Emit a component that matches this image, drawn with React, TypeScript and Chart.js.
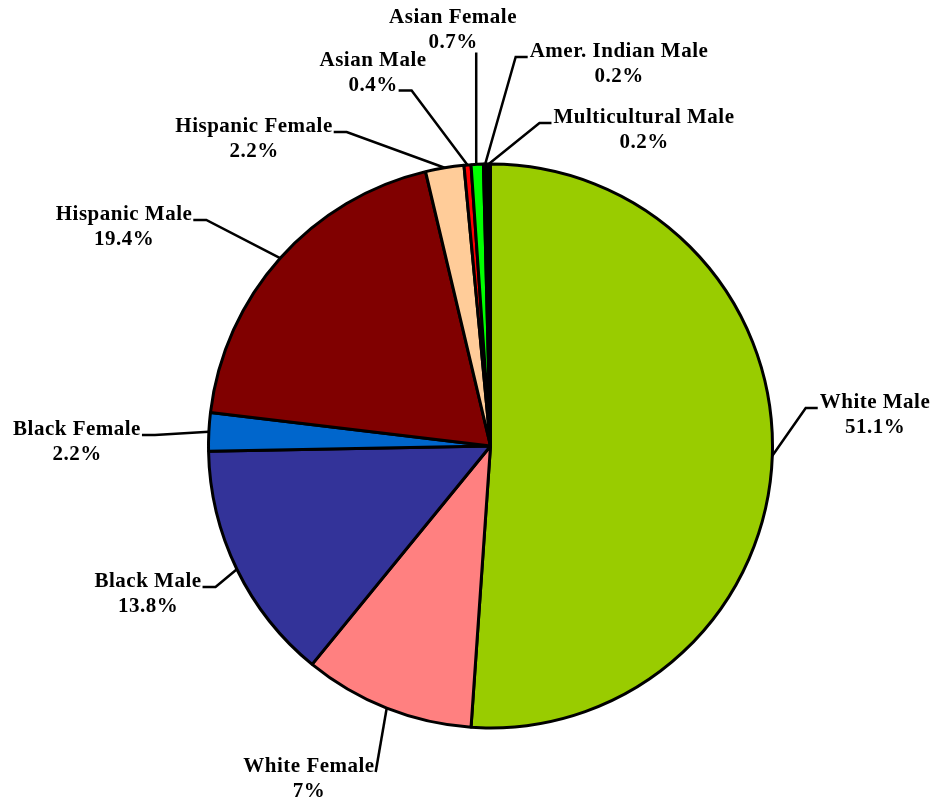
import React, { useEffect, useRef } from "react";
import { Chart, registerables } from "chart.js";

Chart.register(...registerables);

const categories = [
  "White Male",
  "White Female",
  "Black Male",
  "Black Female",
  "Hispanic Male",
  "Hispanic Female",
  "Asian Male",
  "Asian Female",
  "Amer. Indian Male",
  "Multicultural Male",
];
const values = [51.1, 9.8, 13.8, 2.2, 19.4, 2.2, 0.4, 0.7, 0.2, 0.2];
const valueLabels = ["51.1%", "7%", "13.8%", "2.2%", "19.4%", "2.2%", "0.4%", "0.7%", "0.2%", "0.2%"];
const colors = [
  "#99CC00",
  "#FF8080",
  "#333399",
  "#0066CC",
  "#800000",
  "#FFCC99",
  "#FF0000",
  "#00FF00",
  "#000000",
  "#000000",
];

// label layout: text centre x, first-line baseline y, leader attachment style
type Lay = { x: number; y: number; mode: "left" | "right" | "right2" | "direct" | "vertical" };
const layout: Lay[] = [
  { x: 875, y: 408, mode: "left" },
  { x: 309, y: 772, mode: "direct" },
  { x: 148, y: 587, mode: "right" },
  { x: 77, y: 435, mode: "right" },
  { x: 124, y: 220, mode: "right" },
  { x: 254, y: 132, mode: "right" },
  { x: 373, y: 66, mode: "right2" },
  { x: 453, y: 23, mode: "vertical" },
  { x: 619, y: 57, mode: "left" },
  { x: 644, y: 123, mode: "left" },
];
const LINE_GAP = 24.5;

const labelPlugin = {
  id: "leaderLabels",
  afterDatasetsDraw(chart: any) {
    const ctx = chart.ctx as CanvasRenderingContext2D;
    const meta = chart.getDatasetMeta(0);
    ctx.save();
    ctx.font = 'bold 21px "Liberation Serif", "Times New Roman", serif';
    (ctx as any).letterSpacing = "0.5px";
    ctx.textAlign = "center";
    ctx.textBaseline = "alphabetic";
    ctx.fillStyle = "#000";
    ctx.strokeStyle = "#000";
    ctx.lineWidth = 2.5;
    meta.data.forEach((arc: any, i: number) => {
      const p = arc.getProps(["x", "y", "startAngle", "endAngle", "outerRadius"], true);
      const mid = (p.startAngle + p.endAngle) / 2;
      const ex = p.x + Math.cos(mid) * p.outerRadius;
      const ey = p.y + Math.sin(mid) * p.outerRadius;
      const L = layout[i];
      const l1 = categories[i];
      const l2 = valueLabels[i];
      ctx.fillText(l1, L.x, L.y);
      ctx.fillText(l2, L.x, L.y + LINE_GAP);
      const w1 = ctx.measureText(l1).width;
      const w2 = ctx.measureText(l2).width;
      ctx.beginPath();
      if (L.mode === "left") {
        const ax = L.x - w1 / 2 - 2;
        ctx.moveTo(ax, L.y);
        ctx.lineTo(ax - 12, L.y);
        ctx.lineTo(ex, ey);
      } else if (L.mode === "right") {
        const ax = L.x + w1 / 2 + 1;
        ctx.moveTo(ax, L.y);
        ctx.lineTo(ax + 13, L.y);
        ctx.lineTo(ex, ey);
      } else if (L.mode === "right2") {
        const ax = L.x + w2 / 2 + 1;
        const ay = L.y + LINE_GAP;
        ctx.moveTo(ax, ay);
        ctx.lineTo(ax + 13, ay);
        ctx.lineTo(ex, ey);
      } else if (L.mode === "direct") {
        const ax = L.x + w1 / 2 + 1;
        ctx.moveTo(ax, L.y);
        ctx.lineTo(ex, ey);
      } else {
        ctx.moveTo(ex - 1, L.y + LINE_GAP + 5);
        ctx.lineTo(ex - 1, ey);
      }
      ctx.stroke();
    });
    ctx.restore();
  },
};

export default function App() {
  const ref = useRef<HTMLCanvasElement | null>(null);
  useEffect(() => {
    if (!ref.current) return;
    const chart = new Chart(ref.current, {
      type: "pie",
      data: {
        labels: categories,
        datasets: [
          {
            data: values,
            backgroundColor: colors,
            borderColor: "#000000",
            borderWidth: 3,
          },
        ],
      },
      options: {
        responsive: false,
        animation: false,
        layout: { padding: { top: 162.5, bottom: 72.5, left: 207, right: 163 } },
        plugins: {
          legend: { display: false },
          tooltip: { enabled: false },
        },
      },
      plugins: [labelPlugin],
    });
    return () => chart.destroy();
  }, []);
  return (
    <div style={{ position: "fixed", left: 0, top: 0, width: 937, height: 802, background: "#fff" }}>
      <canvas ref={ref} width={937} height={802} style={{ display: "block" }} />
    </div>
  );
}
